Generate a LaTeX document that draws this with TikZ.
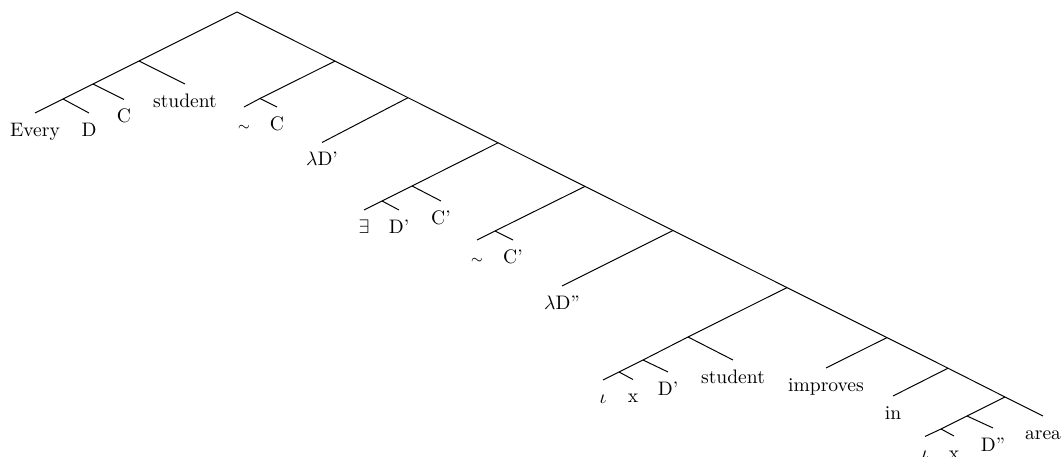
\documentclass[tikz,border=0pt]{standalone}
\begin{document}
\begin{tikzpicture}[x=0.5115pt,y=-0.5115pt,
  edge/.style={line width=0.5pt},
  leaf/.style={anchor=north,inner sep=0pt,text height=11.8pt,text depth=2pt,font=\normalsize}]
\useasboundingbox (0,0) rectangle (1061,457);
% spine
\coordinate (R) at (237,12);
\coordinate (S1) at (335,61.1);
\coordinate (S2) at (408,97.7);
\coordinate (S3) at (498,142.8);
\coordinate (S4) at (585,186.4);
\coordinate (S5) at (673,230.5);
\coordinate (S6) at (787,287.6);
\coordinate (S7) at (887,337.6);
\coordinate (S8) at (948,368.2);
\coordinate (S9) at (1005,397);
% inner junctions
\coordinate (L1) at (139,61);
\coordinate (L2) at (93,84);
\coordinate (L3) at (63,99);
\coordinate (N1) at (260,98.5);
\coordinate (M1) at (412,186);
\coordinate (M2) at (382,201);
\coordinate (P1) at (495,231);
\coordinate (Q1) at (688,337);
\coordinate (Q2) at (643,360);
\coordinate (Q3) at (619,372);
\coordinate (T1) at (967,416);
\coordinate (T2) at (941,429);
% leaves
\node[leaf] (every) at (35,113) {Every};
\node[leaf] (d1) at (89,113) {D};
\node[leaf] (c1) at (124,99.5) {C};
\node[leaf] (stud1) at (185,84) {student};
\node[leaf] (sim1) at (244,107) {$\scriptstyle\sim$};
\node[leaf] (c2) at (277,107) {C};
\node[leaf] (lamd1) at (322,142.5) {$\lambda$D'};
\node[leaf] (ex) at (364,210) {$\exists$};
\node[leaf] (d2) at (399,210) {D'};
\node[leaf] (c3) at (441,201) {C'};
\node[leaf] (sim2) at (477,240) {$\scriptstyle\sim$};
\node[leaf] (c4) at (513,240) {C'};
\node[leaf] (lamd2) at (562,286) {$\lambda$D''};
\node[leaf] (iota1) at (603,380) {$\iota$};
\node[leaf] (x1) at (633,379.5) {x};
\node[leaf] (d3) at (668,372) {D'};
\node[leaf] (stud2) at (733,360) {student};
\node[leaf] (impr) at (826,368) {improves};
\node[leaf] (in) at (893,396) {in};
\node[leaf] (iota2) at (925,436.5) {$\iota$};
\node[leaf] (x2) at (954,436) {x};
\node[leaf] (d4) at (993,428) {D''};
\node[leaf] (area) at (1043,416) {area};
% edges
\draw[edge] (R) -- (L1) -- (L2) -- (L3) -- (every.north);
\draw[edge] (L3) -- (d1.north);
\draw[edge] (L2) -- (c1.north);
\draw[edge] (L1) -- (stud1.north);
\draw[edge] (R) -- (S1) -- (S2) -- (S3) -- (S4) -- (S5) -- (S6) -- (S7) -- (S8) -- (S9) -- (area.north);
\draw[edge] (S1) -- (N1) -- (sim1.north);
\draw[edge] (N1) -- (c2.north);
\draw[edge] (S2) -- (lamd1.north);
\draw[edge] (S3) -- (M1) -- (M2) -- (ex.north);
\draw[edge] (M2) -- (d2.north);
\draw[edge] (M1) -- (c3.north);
\draw[edge] (S4) -- (P1) -- (sim2.north);
\draw[edge] (P1) -- (c4.north);
\draw[edge] (S5) -- (lamd2.north);
\draw[edge] (S6) -- (Q1) -- (Q2) -- (Q3) -- (iota1.north);
\draw[edge] (Q3) -- (x1.north);
\draw[edge] (Q2) -- (d3.north);
\draw[edge] (Q1) -- (stud2.north);
\draw[edge] (S7) -- (impr.north);
\draw[edge] (S8) -- (in.north);
\draw[edge] (S9) -- (T1) -- (T2) -- (iota2.north);
\draw[edge] (T2) -- (x2.north);
\draw[edge] (T1) -- (d4.north);
\end{tikzpicture}
\end{document}
